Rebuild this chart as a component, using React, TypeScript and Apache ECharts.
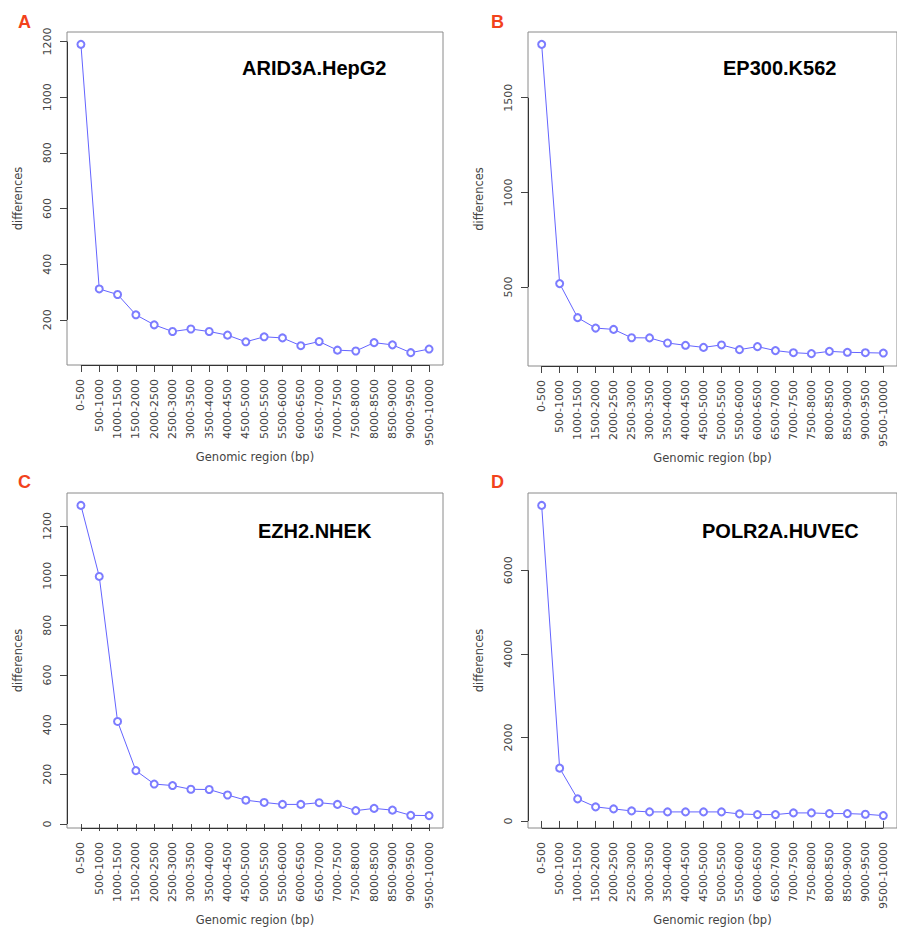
import React, { useEffect, useRef } from "react";
import * as echarts from "echarts";

const categories = [
  "0-500", "500-1000", "1000-1500", "1500-2000", "2000-2500", "2500-3000",
  "3000-3500", "3500-4000", "4000-4500", "4500-5000", "5000-5500", "5500-6000",
  "6000-6500", "6500-7000", "7000-7500", "7500-8000", "8000-8500", "8500-9000",
  "9000-9500", "9500-10000",
];

const arid3aHepG2 = [1190, 311, 291, 218, 182, 158, 167, 158, 145, 121, 139, 135, 107, 122, 91, 88, 118, 110, 82, 95];
const ep300K562 = [1782, 518, 338, 283, 276, 232, 231, 204, 192, 181, 194, 169, 185, 164, 153, 148, 160, 155, 153, 151];
const ezh2NHEK = [1283, 997, 413, 215, 161, 155, 140, 139, 117, 96, 87, 79, 79, 86, 79, 54, 63, 56, 35, 34];
const polr2aHUVEC = [7552, 1264, 528, 336, 288, 240, 216, 216, 216, 216, 216, 168, 152, 152, 192, 192, 176, 176, 160, 128];

const ticksA = [200, 400, 600, 800, 1000, 1200];
const ticksB = [500, 1000, 1500];
const ticksC = [0, 200, 400, 600, 800, 1000, 1200];
const ticksD = [0, 2000, 4000, 6000];

const panelLetters = ["A", "B", "C", "D"];
const panelTitles = ["ARID3A.HepG2", "EP300.K562", "EZH2.NHEK", "POLR2A.HUVEC"];

const panels = [
  { values: arid3aHepG2, ticks: ticksA, left: 67, top: 32, height: 333, letter: [25, 22], title: [242, 68] },
  { values: ep300K562, ticks: ticksB, left: 528, top: 32, height: 334, letter: [498, 22], title: [723, 68] },
  { values: ezh2NHEK, ticks: ticksC, left: 67, top: 493, height: 335, letter: [25, 482], title: [258, 531] },
  { values: polr2aHUVEC, ticks: ticksD, left: 528, top: 493, height: 335, letter: [498, 482], title: [702, 531] },
];

const AXIS_FONT = "'DejaVu Sans', sans-serif";
const TITLE_FONT = "'Liberation Sans', Arial, sans-serif";
const BLUE = "#6464ff";
const SYMBOL_BLUE = "#7c7cff";

export default function App() {
  const ref = useRef<HTMLDivElement>(null);

  useEffect(() => {
    if (!ref.current) return;
    const chart = echarts.init(ref.current, undefined, { renderer: "svg" });
    const n = categories.length;
    const xPad = (n - 1) * 0.04;
    const xMin = 1 - xPad;
    const xMax = n + xPad;
    const xTicks = categories.map((_, i) => i + 1);

    const grids: any[] = [];
    const xAxes: any[] = [];
    const yAxes: any[] = [];
    const series: any[] = [];
    const graphics: any[] = [];

    panels.forEach((p, idx) => {
      const vmin = Math.min(...p.values);
      const vmax = Math.max(...p.values);
      const span = vmax - vmin;
      const yMin = vmin - span * 0.04;
      const yMax = vmax + span * 0.04;

      grids.push({
        left: p.left,
        top: p.top,
        width: 376,
        height: p.height,
        show: true,
        borderColor: "#8a8a8a",
        borderWidth: 1,
        backgroundColor: "transparent",
        containLabel: false,
      });

      xAxes.push({
        type: "value",
        gridIndex: idx,
        min: xMin,
        max: xMax,
        splitLine: { show: false },
        axisLine: { show: false },
        axisTick: {
          show: true,
          customValues: xTicks,
          length: 7,
          lineStyle: { color: "#444", width: 1 },
        },
        axisLabel: {
          show: true,
          customValues: xTicks,
          rotate: 90,
          margin: 14,
          fontSize: 11,
          fontFamily: AXIS_FONT,
          color: "#444",
          formatter: (v: number) => categories[Math.round(v) - 1] ?? "",
        },
        name: "Genomic region (bp)",
        nameLocation: "middle",
        nameGap: 86,
        nameTextStyle: { fontSize: 11.5, fontFamily: AXIS_FONT, color: "#444" },
      });

      yAxes.push({
        type: "value",
        gridIndex: idx,
        min: yMin,
        max: yMax,
        splitLine: { show: false },
        axisLine: { show: false },
        axisTick: {
          show: true,
          customValues: p.ticks,
          length: 7,
          lineStyle: { color: "#444", width: 1 },
        },
        axisLabel: {
          show: true,
          customValues: p.ticks,
          rotate: 90,
          margin: 14,
          align: "center",
          verticalAlign: "bottom",
          fontSize: 11,
          fontFamily: AXIS_FONT,
          color: "#444",
          formatter: (v: number) => String(Math.round(v)),
        },
        name: "differences",
        nameLocation: "middle",
        nameGap: 43,
        nameTextStyle: { fontSize: 11.5, fontFamily: AXIS_FONT, color: "#444" },
      });

      series.push({
        type: "line",
        xAxisIndex: idx,
        yAxisIndex: idx,
        data: p.values.map((v, i) => [i + 1, v]),
        symbol: "emptyCircle",
        symbolSize: 7,
        showSymbol: true,
        clip: false,
        lineStyle: { color: BLUE, width: 1 },
        itemStyle: { color: SYMBOL_BLUE, borderColor: SYMBOL_BLUE, borderWidth: 1 },
        markLine: {
          silent: true,
          symbol: "none",
          label: { show: false },
          lineStyle: { color: "#333", width: 1, type: "solid" },
          data: [
            [{ coord: [xMin, p.ticks[0]] }, { coord: [xMin, p.ticks[p.ticks.length - 1]] }],
            [{ coord: [1, yMin] }, { coord: [n, yMin] }],
          ],
        },
      });

      graphics.push({
        type: "text",
        left: p.letter[0] - 7,
        top: p.letter[1] - 9,
        style: {
          text: panelLetters[idx],
          fill: "#f2421b",
          font: `bold 18px ${TITLE_FONT}`,
        },
      });
      graphics.push({
        type: "text",
        x: p.title[0],
        y: p.title[1],
        style: {
          text: panelTitles[idx],
          fill: "#000",
          font: `bold 20px ${TITLE_FONT}`,
          textAlign: "left",
          textVerticalAlign: "middle",
        },
      });
    });

    chart.setOption({
      animation: false,
      backgroundColor: "#fff",
      grid: grids,
      xAxis: xAxes,
      yAxis: yAxes,
      series,
      graphic: graphics,
    });

    return () => chart.dispose();
  }, []);

  return (
    <div
      ref={ref}
      style={{ position: "absolute", left: 0, top: 0, width: 897, height: 931, overflow: "hidden" }}
    />
  );
}
